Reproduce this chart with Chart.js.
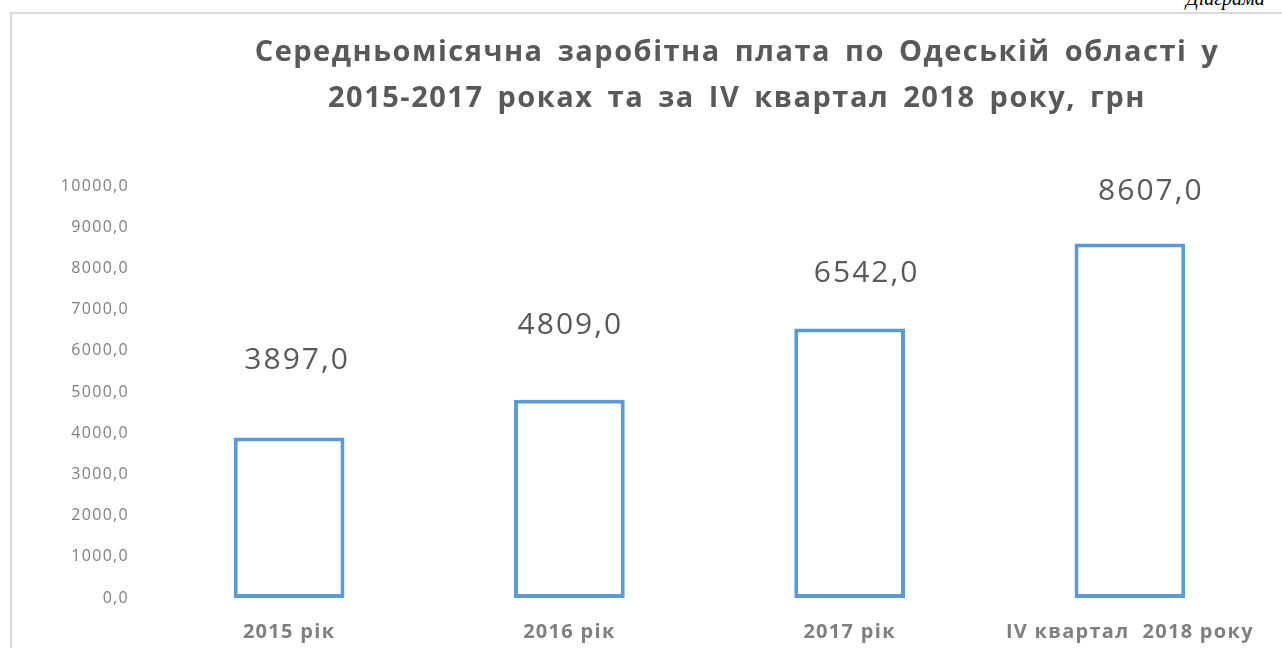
<!DOCTYPE html>
<html lang="uk">
<head>
    <meta charset="UTF-8">
    <title>Середньомісячна заробітна плата</title>
    <script src="https://cdn.jsdelivr.net/npm/chart.js"></script>
    <style>
        html, body {
            margin: 0;
            padding: 0;
            background: #ffffff;
            overflow: hidden;
        }
        .wrap {
            position: relative;
            width: 1282px;
            height: 648px;
        }
        .frame {
            position: absolute;
            left: 10px;
            top: 12px;
            width: 1300px;
            height: 700px;
            border-top: 2px solid #d9d9d9;
            border-left: 2px solid #d9d9d9;
        }
        .caption {
            position: absolute;
            left: 1186px;
            top: -13px;
            font-family: "Liberation Serif", serif;
            font-style: italic;
            font-size: 20px;
            color: #000;
            white-space: nowrap;
        }
        canvas {
            position: absolute;
            left: 0;
            top: 0;
        }
    </style>
</head>
<body>
<div class="wrap">
    <div class="frame"></div>
    <div class="caption">Діаграма</div>
    <canvas id="wageChart" width="1282" height="648"></canvas>
</div>
<script>
    const titleLines = [
        'Середньомісячна заробітна плата по Одеській області у',
        '2015-2017 роках та за IV квартал 2018 року, грн'
    ];
    const periods = ['2015 рік', '2016 рік', '2017 рік', 'IV квартал  2018 року'];
    const avgWage = [3897.0, 4809.0, 6542.0, 8607.0];
    const yTicks = [0, 1000, 2000, 3000, 4000, 5000, 6000, 7000, 8000, 9000, 10000];

    // label placement in the original is hand-moved, so nudge each one a bit
    const labelShift = [[8, -77], [1, -74], [17, -55], [21, -52]];

    const fmt = v => v.toFixed(1).replace('.', ',');

    // the original fonts run wider than Open Sans, so spread the letters a little
    const spacing = {
        id: 'spacing',
        beforeDraw(chart) {
            chart.ctx.letterSpacing = '1.3px';
        }
    };

    const chartTitle = {
        id: 'chartTitle',
        afterDraw(chart) {
            const ctx = chart.ctx;
            ctx.save();
            ctx.font = 'bold 29px "Open Sans"';
            ctx.letterSpacing = '1.5px';
            ctx.wordSpacing = '5px';
            ctx.fillStyle = '#595959';
            ctx.textAlign = 'center';
            ctx.textBaseline = 'middle';
            ctx.fillText(titleLines[0], 737, 53);
            ctx.fillText(titleLines[1], 737, 99);
            ctx.restore();
        }
    };

    const valueLabels = {
        id: 'valueLabels',
        afterDatasetsDraw(chart) {
            const ctx = chart.ctx;
            const meta = chart.getDatasetMeta(0);
            ctx.save();
            ctx.font = '30px "Open Sans"';
            ctx.letterSpacing = '2px';
            ctx.fillStyle = '#595959';
            ctx.textAlign = 'center';
            ctx.textBaseline = 'middle';
            meta.data.forEach((bar, i) => {
                const s = labelShift[i];
                ctx.fillText(fmt(avgWage[i]), bar.x + s[0], bar.y + s[1]);
            });
            ctx.restore();
        }
    };

    new Chart(document.getElementById('wageChart'), {
        type: 'bar',
        data: {
            labels: periods,
            datasets: [{
                data: avgWage,
                backgroundColor: '#ffffff',
                borderColor: '#5b9bd5',
                borderWidth: 4,
                borderSkipped: false,
                categoryPercentage: 1,
                barPercentage: 0.395
            }]
        },
        options: {
            responsive: false,
            animation: false,
            layout: {
                padding: { left: 0, right: 12, top: 186, bottom: 0 }
            },
            plugins: {
                legend: { display: false },
                tooltip: { enabled: false },
                title: { display: false }
            },
            scales: {
                x: {
                    grid: { display: false, drawTicks: false },
                    border: { display: false },
                    ticks: {
                        color: '#7f7f7f',
                        font: { family: '"Open Sans"', size: 20, weight: 'bold' },
                        padding: 22,
                        maxRotation: 0
                    },
                    afterFit(s) { s.height = 50; }
                },
                y: {
                    min: 0,
                    max: 10000,
                    grid: { display: false, drawTicks: false },
                    border: { display: false },
                    afterBuildTicks(s) { s.ticks = yTicks.map(v => ({ value: v })); },
                    ticks: {
                        color: '#808080',
                        font: { family: '"Open Sans"', size: 16 },
                        padding: 20,
                        callback: v => fmt(v)
                    },
                    afterFit(s) { s.width = 149; }
                }
            }
        },
        plugins: [spacing, chartTitle, valueLabels]
    });
</script>
</body>
</html>
